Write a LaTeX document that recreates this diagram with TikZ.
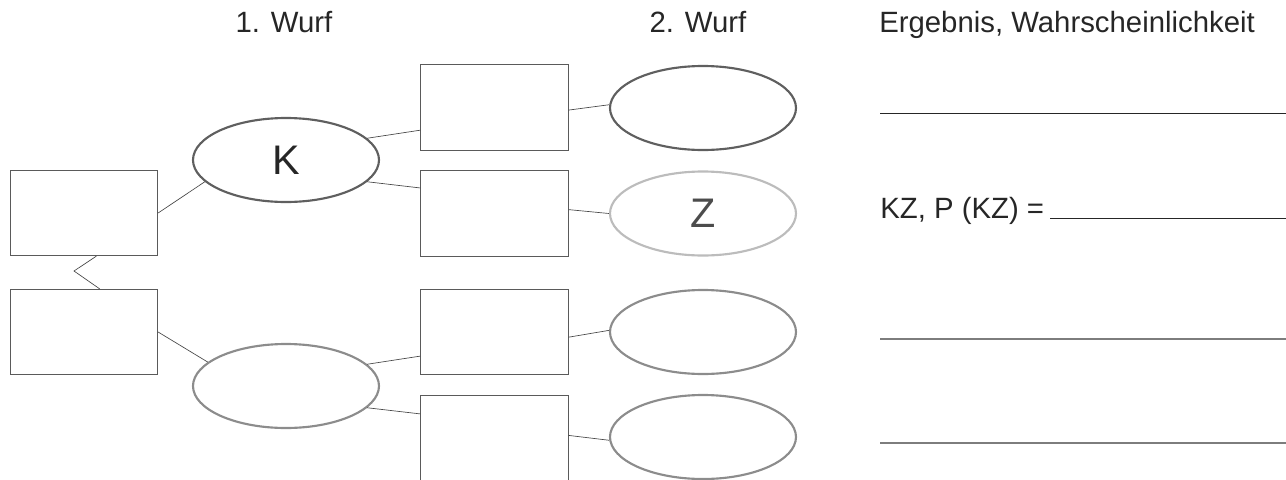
\documentclass[tikz,border=0pt]{standalone}
\usepackage{fontspec}
\setmainfont{Liberation Sans}
\usetikzlibrary{shapes.geometric}
\definecolor{inkdark}{RGB}{38, 38, 38}
\definecolor{linkgray}{RGB}{70, 70, 70}
\definecolor{boxgray}{RGB}{90, 90, 90}
\definecolor{ovdark}{RGB}{95, 95, 95}
\definecolor{ovmid}{RGB}{140, 140, 140}
\definecolor{ovlight}{RGB}{188, 188, 188}
\definecolor{rulegray}{RGB}{125, 125, 125}

\tikzset{
  wbox/.style={draw=boxgray, line width=0.8pt, minimum width=110.4pt,
    minimum height=63.9pt, inner sep=0pt},
  woval/.style={ellipse, line width=1.6pt, minimum width=139.5pt,
    minimum height=63pt, inner sep=0pt, text=inkdark,
    font=\fontsize{31}{36}\selectfont},
  wlink/.style={draw=linkgray, line width=0.5pt},
  wtitle/.style={text=inkdark, inner sep=0pt, font=\fontsize{22}{26}\selectfont},
  ansline/.style={draw=inkdark, line width=0.7pt},
}

\begin{document}
\begin{tikzpicture}[x=0.75pt, y=-0.75pt]
  \useasboundingbox (0,0) rectangle (1286,479);
  % headings
  \node[wtitle, anchor=base] (head1) at (284,32) {1. Wurf};
  \node[wtitle, anchor=base] (head2) at (698,32) {2. Wurf};
  \node[wtitle, anchor=base west] (head3) at (879,32) {Ergebnis, Wahrscheinlichkeit};

  % start boxes and first throw
  \node[wbox] (root1) at (84,213) {};
  \node[wbox] (root2) at (84,332) {};
  \coordinate (bend) at (74,271);
  \draw[wlink] (root1.286) -- (bend) -- (root2.70);
  \node[woval, draw=ovdark] (first1) at (286,160) {K};
  \node[woval, draw=ovmid] (first2) at (286,386) {};
  \draw[wlink] (root1.east) -- (first1.195);
  \draw[wlink] (root2.east) -- (first2.163);

  % middle boxes
  \node[wbox] (mid1) at (494.5,107.5) {};
  \node[wbox] (mid2) at (494.5,213.5) {};
  \node[wbox] (mid3) at (494.5,332) {};
  \node[wbox] (mid4) at (494.5,438) {};
  \draw[wlink] (first1.15) -- (mid1.197);
  \draw[wlink] (first1.-15) -- (mid2.161);
  \draw[wlink] (first2.15) -- (mid3.198);
  \draw[wlink] (first2.-15) -- (mid4.162);

  % second throw
  \node[woval, draw=ovdark] (second1) at (703,108) {};
  \node[woval, draw=ovlight, text=ovdark!80!black] (second2) at (703,213.5) {Z};
  \node[woval, draw=ovmid] (second3) at (703,332) {};
  \node[woval, draw=ovmid] (second4) at (703,437) {};
  \draw[wlink] (mid1.-2) -- (second1.178);
  \draw[wlink] (mid2.3.5) -- (second2.180);
  \draw[wlink] (mid3.-4) -- (second3.179);
  \draw[wlink] (mid4.2) -- (second4.182);

  % answer lines
  \node[wtitle, anchor=base west] (kzlabel) at (880,218) {KZ, P (KZ) =};
  \coordinate (ans1a) at (880,113);  \coordinate (ans1b) at (1286,113);
  \coordinate (ans2a) at (1050,218); \coordinate (ans2b) at (1286,218);
  \coordinate (ans3a) at (880,339);  \coordinate (ans3b) at (1286,339);
  \coordinate (ans4a) at (880,443);  \coordinate (ans4b) at (1286,443);
  \draw[ansline] (ans1a) -- (ans1b);
  \draw[ansline] (ans2a) -- (ans2b);
  \draw[ansline, draw=rulegray, line width=1.1pt] (ans3a) -- (ans3b);
  \draw[ansline, draw=rulegray, line width=1.1pt] (ans4a) -- (ans4b);
\end{tikzpicture}
\end{document}
